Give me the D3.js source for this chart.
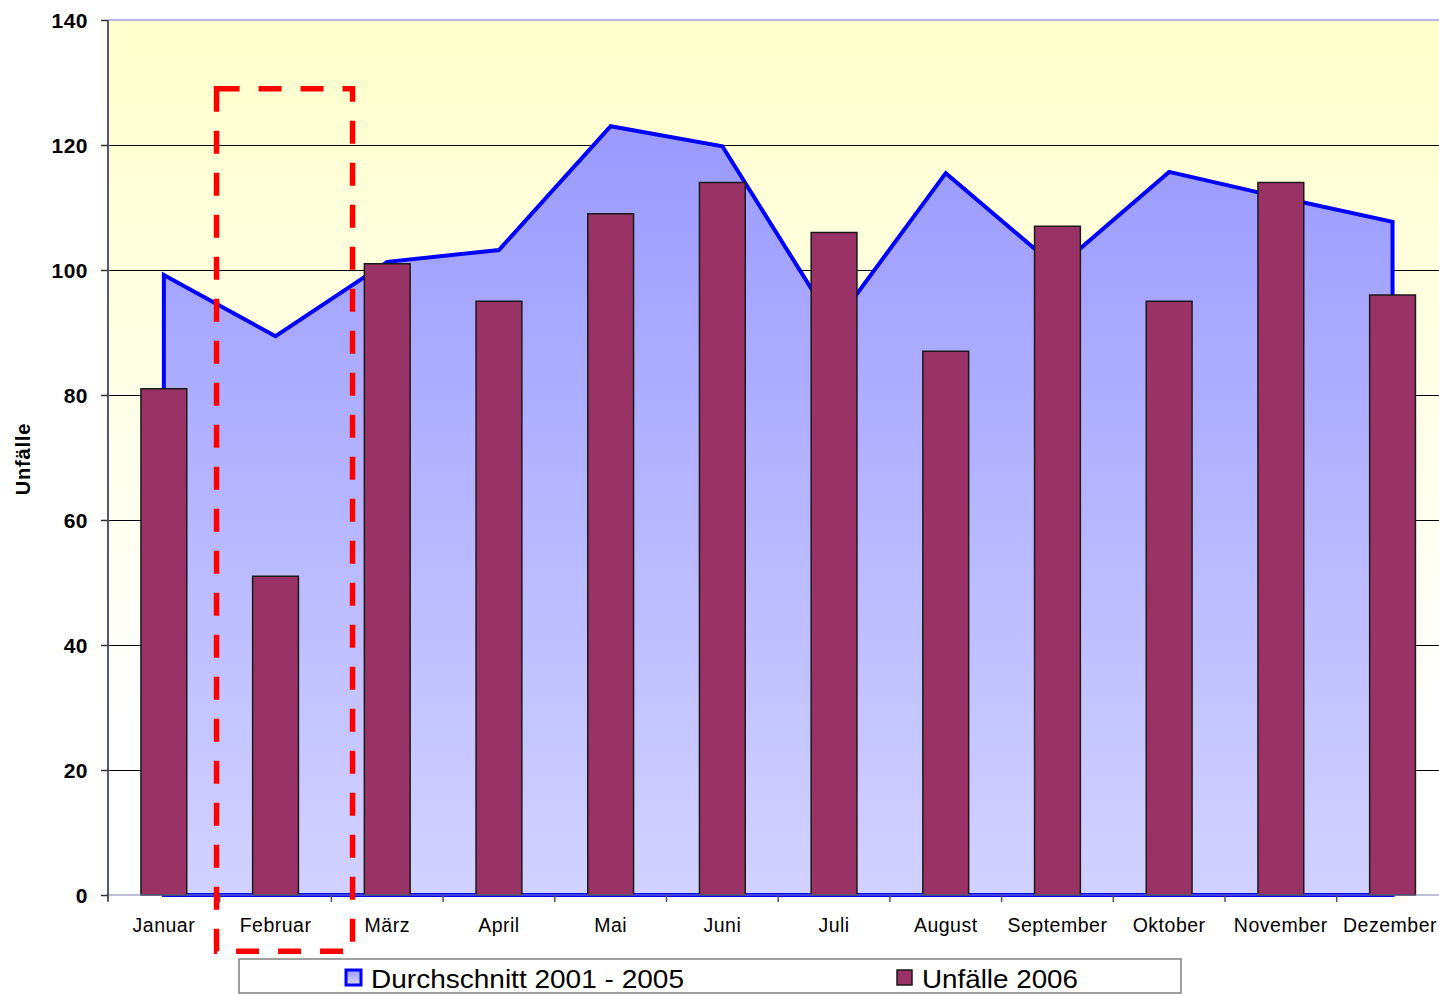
<!DOCTYPE html>
<html>
<head>
<meta charset="utf-8">
<script src="https://cdn.jsdelivr.net/npm/d3@7"></script>
<style>
html,body{margin:0;padding:0;background:#fff;}
svg{display:block;}
text{font-family:Arial,"Liberation Sans",sans-serif;}
</style>
</head>
<body>
<svg id="chart" width="1439" height="994"></svg>
<script>
const months = ["Januar","Februar","März","April","Mai","Juni","Juli","August","September","Oktober","November","Dezember"];
const average = [99.2, 89.4, 101.3, 103.2, 123.0, 119.8, 91.2, 115.5, 100.3, 115.7, 111.6, 107.7];
const accidents2006 = [81, 51, 101, 95, 109, 114, 106, 87, 107, 95, 114, 96];
const yTicks = [0, 20, 40, 60, 80, 100, 120, 140];
const seriesNames = ["Durchschnitt 2001 - 2005", "Unfälle 2006"];
const yTitle = "Unfälle";
const highlightMonth = "Februar";
const highlightRange = [129, -9]; // value range covered by the dashed highlight box

const svg = d3.select("#chart");
const W = 1439;
const L = 108, R = 1448.4, T = 20, B = 895;

const x = d3.scaleBand().domain(months).range([L, R]).padding(0);
const y = d3.scaleLinear().domain([0, 140]).range([B, T]);
const cx = m => x(m) + x.bandwidth() / 2;
const crisp = v => Math.round(v) + 0.5;

const defs = svg.append("defs");
const bg = defs.append("linearGradient").attr("id","bgGrad").attr("x1",0).attr("y1",0).attr("x2",0).attr("y2",1);
bg.append("stop").attr("offset","0%").attr("stop-color","#ffffcc");
bg.append("stop").attr("offset","80%").attr("stop-color","#ffffff");
bg.append("stop").attr("offset","100%").attr("stop-color","#ffffff");

const ag = defs.append("linearGradient").attr("id","areaGrad").attr("gradientUnits","userSpaceOnUse")
  .attr("x1",0).attr("y1",y(125)).attr("x2",0).attr("y2",y(0));
ag.append("stop").attr("offset","0%").attr("stop-color","#9999ff");
ag.append("stop").attr("offset","100%").attr("stop-color","#d2d2ff");

const lg = defs.append("linearGradient").attr("id","legGrad").attr("x1",0).attr("y1",0).attr("x2",0).attr("y2",1);
lg.append("stop").attr("offset","0%").attr("stop-color","#9999ff");
lg.append("stop").attr("offset","100%").attr("stop-color","#d8d8ff");

// plot background
svg.append("rect").attr("x",L).attr("y",T).attr("width",R-L).attr("height",B-T).attr("fill","url(#bgGrad)");

// gridlines
svg.append("g").selectAll("line").data(yTicks.filter(v => v > 0 && v < 140)).join("line")
  .attr("x1",L).attr("x2",R).attr("y1",d=>crisp(y(d))).attr("y2",d=>crisp(y(d)))
  .attr("stroke","#000").attr("stroke-width",1);
svg.append("line").attr("x1",L).attr("x2",R).attr("y1",y(140)).attr("y2",y(140))
  .attr("stroke","#a0a0e8").attr("stroke-width",1.5);

// area
const areaData = months.map((m,i)=>({m, v: average[i]}));
const area = d3.area().x(d=>cx(d.m)).y0(y(0)).y1(d=>y(d.v));
svg.append("path").datum(areaData).attr("d", area(areaData) + "Z")
  .attr("fill","url(#areaGrad)").attr("stroke","#0000ff").attr("stroke-width",4).attr("stroke-linejoin","miter");

// bars
const bw = x.bandwidth() * 0.41;
svg.append("g").selectAll("rect").data(months).join("rect")
  .attr("x", m => cx(m) - bw/2)
  .attr("y", (m,i) => y(accidents2006[i]))
  .attr("width", bw)
  .attr("height", (m,i) => y(0) - y(accidents2006[i]))
  .attr("fill","#993366").attr("stroke","#1a1a1a").attr("stroke-width",1.5);

// x axis
const xAxis = svg.append("g").attr("transform",`translate(0,${B})`);
xAxis.append("line").attr("x1",L).attr("x2",R).attr("y1",0).attr("y2",0).attr("stroke","#8080b0").attr("stroke-width",1);
xAxis.selectAll("line.tick").data(months).join("line").attr("class","tick")
  .attr("x1",m => x(m)).attr("x2",m => x(m))
  .attr("y1",0).attr("y2",7).attr("stroke","#555").attr("stroke-width",1.5);
xAxis.selectAll("text").data(months).join("text")
  .attr("x", m => cx(m)).attr("y", 37).attr("text-anchor","middle")
  .attr("font-size",19.5).attr("letter-spacing","0.5px").attr("fill","#000").text(d=>d)
  .each(function(){
    const bb = this.getBBox();
    if (bb.x + bb.width > W - 2) {
      d3.select(this).attr("x", +d3.select(this).attr("x") - (bb.x + bb.width - (W - 2)));
    }
  });

// y axis
const yAxis = svg.append("g");
yAxis.append("line").attr("x1",L).attr("x2",L).attr("y1",T).attr("y2",B+6).attr("stroke","#55557a").attr("stroke-width",2);
yAxis.selectAll("line.tick").data(yTicks).join("line").attr("class","tick")
  .attr("x1",L-7).attr("x2",L).attr("y1",d=>crisp(y(d))).attr("y2",d=>crisp(y(d))).attr("stroke","#333").attr("stroke-width",1.5);
yAxis.selectAll("text").data(yTicks).join("text")
  .attr("x",88).attr("y",d=>y(d)+7.5).attr("text-anchor","end")
  .attr("font-size",21).attr("font-weight","bold").attr("letter-spacing","0.5px").text(d=>d);

svg.append("text").attr("transform","translate(30,459) rotate(-90)").attr("text-anchor","middle")
  .attr("font-size",20).attr("font-weight","bold").attr("letter-spacing","0.8px").text(yTitle);

// highlight dashed box
svg.append("rect")
  .attr("x", cx(highlightMonth) - 59).attr("y", y(highlightRange[0]))
  .attr("width", 136).attr("height", y(highlightRange[1]) - y(highlightRange[0]))
  .attr("fill","none").attr("stroke","#ff0000").attr("stroke-width",5.5)
  .attr("stroke-dasharray","23,19");

// legend
const leg = svg.append("g");
leg.append("rect").attr("x",239).attr("y",959).attr("width",942).attr("height",34)
  .attr("fill","#fff").attr("stroke","#808080").attr("stroke-width",1.5);
leg.append("rect").attr("x",346).attr("y",970).attr("width",15).attr("height",15)
  .attr("fill","url(#legGrad)").attr("stroke","#0000ff").attr("stroke-width",3);
leg.append("text").attr("x",371).attr("y",988).attr("font-size",26).attr("textLength",313)
  .attr("lengthAdjust","spacingAndGlyphs").text(seriesNames[0]);
leg.append("rect").attr("x",897).attr("y",970).attr("width",15).attr("height",15)
  .attr("fill","#993366").attr("stroke","#1a1a1a").attr("stroke-width",1.5);
leg.append("text").attr("x",922).attr("y",988).attr("font-size",26).attr("textLength",156)
  .attr("lengthAdjust","spacingAndGlyphs").text(seriesNames[1]);
</script>
</body>
</html>
